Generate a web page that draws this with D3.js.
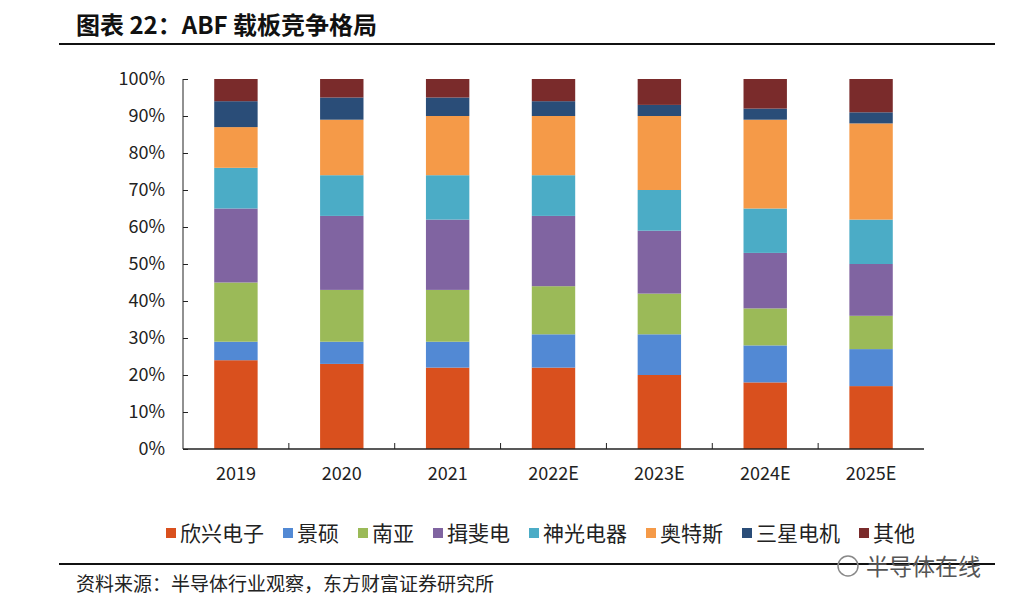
<!DOCTYPE html>
<html><head><meta charset="utf-8">
<script src="https://cdn.jsdelivr.net/npm/d3@7/dist/d3.min.js"></script>
<style>body{margin:0;background:#fff}svg{display:block}</style>
</head><body><div id="chart"></div>
<script>
var years=["2019","2020","2021","2022E","2023E","2024E","2025E"];
var names=["欣兴电子","景硕","南亚","揖斐电","神光电器","奥特斯","三星电机","其他"];
var colors=["#d9501e","#5289d4","#9bba58","#8064a1","#4bacc6","#f59a48","#2a4d78","#7a2b2b"];
var xinxing=[24,23,22,22,20,18,17];
var jingshuo=[5,6,7,9,11,10,10];
var nanya=[16,14,14,13,11,10,9];
var ibiden=[20,20,19,19,17,15,14];
var shinko=[11,11,12,11,11,12,12];
var ats=[11,15,16,16,20,24,26];
var semco=[7,6,5,4,3,3,3];
var other=[6,5,5,6,7,8,9];
var series=[xinxing,jingshuo,nanya,ibiden,shinko,ats,semco,other];
var yTicks=[0,10,20,30,40,50,60,70,80,90,100];

var font="'Noto Sans CJK SC','Noto Sans',sans-serif";
var svg=d3.select("#chart").append("svg").attr("width",1024).attr("height",611);

svg.append("text").attr("x",76).attr("y",34).text("图表 22：ABF 载板竞争格局")
  .attr("font-family",font).attr("font-weight","bold").attr("font-size",24).attr("fill","#111");
svg.append("line").attr("x1",59).attr("x2",995).attr("y1",44).attr("y2",44).attr("stroke","#111").attr("stroke-width",2);

var x=d3.scaleBand().domain(years).range([183,924]).paddingInner(0.59).paddingOuter(0.295);
var y=d3.scaleLinear().domain([0,100]).range([449,79]);

var rows=years.map(function(yr,i){var o={year:yr};names.forEach(function(n,k){o[n]=series[k][i];});return o;});
var stack=d3.stack().keys(names)(rows);

svg.selectAll("g.layer").data(stack).join("g").attr("fill",function(d,i){return colors[i];})
  .selectAll("rect").data(function(d){return d;}).join("rect")
  .attr("x",function(d){return x(d.data.year);}).attr("width",x.bandwidth())
  .attr("y",function(d){return y(d[1]);}).attr("height",function(d){return y(d[0])-y(d[1]);});

var ya=svg.append("g").attr("transform","translate(183,0)")
  .call(d3.axisRight(y).tickValues(yTicks).tickSize(5).tickFormat(function(d){return d+"%";}));
ya.selectAll("text").attr("x",-18).attr("text-anchor","end").attr("font-size",18).attr("font-family",font).attr("fill","#222");
ya.selectAll("line,path").attr("stroke","#222");
ya.select(".domain").attr("d","M0,449V79");

var xa=svg.append("g").attr("transform","translate(0,449)");
xa.append("line").attr("x1",183).attr("x2",924).attr("stroke","#222").attr("stroke-width",1.5);
xa.selectAll("line.tk").data(years.slice(1)).join("line").attr("class","tk")
  .attr("x1",function(d){return x(d)-x.step()*0.295;}).attr("x2",function(d){return x(d)-x.step()*0.295;})
  .attr("y1",0).attr("y2",-6).attr("stroke","#222");
xa.selectAll("text").data(years).join("text")
  .attr("x",function(d){return x(d)+x.bandwidth()/2;}).attr("y",31).attr("text-anchor","middle")
  .attr("font-size",18).attr("font-family",font).attr("fill","#222").text(function(d){return d;});

var lg=svg.append("g").attr("transform","translate(166,541)");
var lx=0;
names.forEach(function(n,i){
  var g=lg.append("g").attr("transform","translate("+lx+",0)");
  g.append("rect").attr("x",0).attr("y",-13).attr("width",10).attr("height",10).attr("fill",colors[i]);
  var t=g.append("text").attr("x",14).attr("y",0).attr("font-size",21).attr("font-family",font).attr("fill","#222").text(n);
  lx+=14+t.node().getComputedTextLength()+19;
});

svg.append("line").attr("x1",59).attr("x2",995).attr("y1",564).attr("y2",564).attr("stroke","#111").attr("stroke-width",2);
svg.append("text").attr("x",76).attr("y",591).attr("font-size",19).attr("font-family",font).attr("fill","#222")
  .text("资料来源：半导体行业观察，东方财富证券研究所");
svg.append("circle").attr("cx",848).attr("cy",566).attr("r",10).attr("fill","none").attr("stroke","#888").attr("stroke-width",1.5);
svg.append("text").attr("x",866).attr("y",575).attr("font-size",23).attr("font-family",font).attr("fill","#555").text("半导体在线");
</script></body></html>
